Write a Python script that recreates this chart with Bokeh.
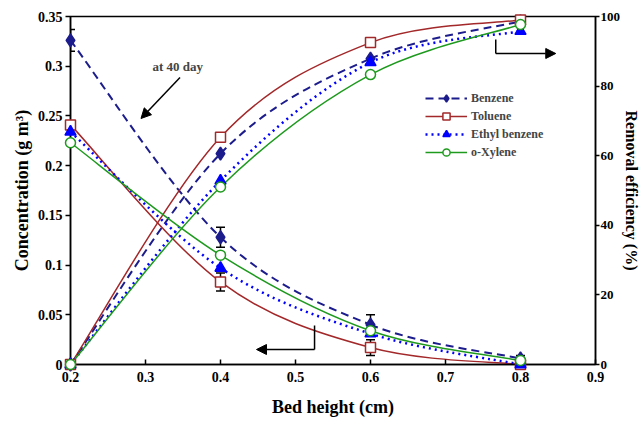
from bokeh.plotting import figure
from bokeh.models import (Range1d, LinearAxis, FixedTicker, Legend, LegendItem, Whisker,
                          ColumnDataSource, Arrow, NormalHead, Label, TeeHead)
from bokeh.embed import file_html
from bokeh.resources import INLINE

# ---- data ----
bed_height = [0.2, 0.4, 0.6, 0.8]
conc_benzene = [0.326, 0.128, 0.040, 0.006]
conc_toluene = [0.241, 0.083, 0.017, 0.0]
conc_ethyl = [0.234, 0.097, 0.031, 0.0]
conc_xylene = [0.223, 0.110, 0.034, 0.004]
rem_benzene = [0.0, 60.6, 87.9, 98.6]
rem_toluene = [0.0, 65.3, 92.5, 99.0]
rem_ethyl = [0.0, 52.8, 86.8, 95.8]
rem_xylene = [0.0, 51.0, 83.3, 97.7]
err_x = [0.2, 0.4, 0.4, 0.6, 0.6, 0.8]
err_val = [0.326, 0.128, 0.083, 0.040, 0.017, 0.006]
err_size = [0.011, 0.010, 0.009, 0.010, 0.008, 0.003]

x_ticks = [0.2, 0.3, 0.4, 0.5, 0.6, 0.7, 0.8, 0.9]
x_labels = ["0.2", "0.3", "0.4", "0.5", "0.6", "0.7", "0.8", "0.9"]
yl_ticks = [0, 0.05, 0.1, 0.15, 0.2, 0.25, 0.3, 0.35]
yl_labels = ["0", "0.05", "0.1", "0.15", "0.2", "0.25", "0.3", "0.35"]
yr_ticks = [0, 20, 40, 60, 80, 100]
yr_labels = ["0", "20", "40", "60", "80", "100"]

FONT = "Liberation Serif"

p = figure(width=643, height=422, output_backend="svg", toolbar_location=None,
           x_range=Range1d(0.2, 0.9), y_range=Range1d(0, 0.35),
           min_border_left=70, min_border_right=46, min_border_top=16, min_border_bottom=58)
p.extra_y_ranges = {"rem": Range1d(0, 100)}
p.grid.visible = False
p.outline_line_color = "black"
p.outline_line_width = 1.5
p.background_fill_color = "white"
p.border_fill_color = "white"


def style_axis(ax, ticks, labels, tick_size="14px", label_size="18px"):
    ax.ticker = FixedTicker(ticks=ticks)
    ax.major_label_overrides = {t: l for t, l in zip(ticks, labels)}
    ax.minor_tick_line_color = None
    ax.axis_line_width = 1.5
    ax.axis_line_color = "black"
    ax.major_tick_line_color = "black"
    ax.major_tick_line_width = 1.5
    ax.major_label_text_font = FONT
    ax.major_label_text_font_style = "bold"
    ax.major_label_text_font_size = tick_size
    ax.major_label_text_color = "black"
    ax.axis_label_text_font = FONT
    ax.axis_label_text_font_style = "bold"
    ax.axis_label_text_font_size = label_size
    ax.axis_label_text_color = "black"


xa = p.xaxis[0]
style_axis(xa, x_ticks, x_labels)
xa.axis_label = "Bed height (cm)"
xa.major_tick_in = 5
xa.major_tick_out = 0
xa.major_label_standoff = 7
xa.axis_label_standoff = 12

ya = p.yaxis[0]
style_axis(ya, yl_ticks, yl_labels)
ya.axis_label = "Concentration (g m³)"
ya.major_tick_in = 0
ya.major_tick_out = 5
ya.major_label_standoff = 3
ya.axis_label_standoff = 3

yr = LinearAxis(y_range_name="rem")
style_axis(yr, yr_ticks, yr_labels, tick_size="13px", label_size="16px")
yr.axis_label = "Removal efficiency (%)"
yr.major_tick_in = 0
yr.major_tick_out = 4
yr.major_label_standoff = 1
yr.axis_label_standoff = 0
p.add_layout(yr, "right")


def catmull_bezier(xs, ys):
    n = len(xs)
    out = dict(x0=[], y0=[], x1=[], y1=[], cx0=[], cy0=[], cx1=[], cy1=[])
    for i in range(n - 1):
        im = max(i - 1, 0)
        i2 = min(i + 2, n - 1)
        out["x0"].append(xs[i]); out["y0"].append(ys[i])
        out["x1"].append(xs[i + 1]); out["y1"].append(ys[i + 1])
        out["cx0"].append(xs[i] + (xs[i + 1] - xs[im]) / 6)
        out["cy0"].append(ys[i] + (ys[i + 1] - ys[im]) / 6)
        out["cx1"].append(xs[i + 1] - (xs[i2] - xs[i]) / 6)
        out["cy1"].append(ys[i + 1] - (ys[i2] - ys[i]) / 6)
    return ColumnDataSource(out)


series = [
    ("Benzene", conc_benzene, rem_benzene, "#1c1c8c", "8 5", 2.0, "diamond", "#1c1c8c", 13),
    ("Toluene", conc_toluene, rem_toluene, "#a3282a", "solid", 1.5, "square", "white", 10),
    ("Ethyl benzene", conc_ethyl, rem_ethyl, "#0000ff", "2 4", 2.5, "triangle", "#0000ff", 11),
    ("o-Xylene", conc_xylene, rem_xylene, "#1e9a1e", "solid", 1.5, "circle", "white", 10),
]

items = []
marker_renderers = []
for name, conc, rem, col, dash, lw, mk, fill, sz in series:
    b1 = p.bezier(x0="x0", y0="y0", x1="x1", y1="y1", cx0="cx0", cy0="cy0", cx1="cx1", cy1="cy1",
                  source=catmull_bezier(bed_height, conc), line_color=col, line_width=lw, line_dash=dash)
    p.bezier(x0="x0", y0="y0", x1="x1", y1="y1", cx0="cx0", cy0="cy0", cx1="cx1", cy1="cy1",
             source=catmull_bezier(bed_height, rem), line_color=col, line_width=lw, line_dash=dash,
             y_range_name="rem")
    marker_renderers.append((conc, rem, col, mk, fill, sz))
    items.append((name, b1))

# error bars
err_src = ColumnDataSource(dict(x=err_x,
                                upper=[v + e for v, e in zip(err_val, err_size)],
                                lower=[v - e for v, e in zip(err_val, err_size)]))
p.add_layout(Whisker(source=err_src, base="x", upper="upper", lower="lower", dimension="height",
                     line_color="black", line_width=1.5,
                     upper_head=TeeHead(size=9, line_color="black", line_width=1.5),
                     lower_head=TeeHead(size=9, line_color="black", line_width=1.5)))

legend_items = []
for (name, b1), (conc, rem, col, mk, fill, sz) in zip(items, marker_renderers):
    m1 = p.scatter(bed_height, conc, marker=mk, size=sz, line_color=col, fill_color=fill,
                   line_width=1.5, level="overlay")
    p.scatter(bed_height, rem, marker=mk, size=sz, line_color=col, fill_color=fill,
              line_width=1.5, y_range_name="rem", level="overlay")
    legend_items.append(LegendItem(label=name, renderers=[b1, m1]))

legend = Legend(items=legend_items, location=(355, 203), padding=0, margin=0, spacing=0,
                label_height=18, glyph_height=18, glyph_width=42, label_standoff=4,
                border_line_color=None, background_fill_alpha=0,
                label_text_font=FONT, label_text_font_style="bold", label_text_font_size="12px")
p.add_layout(legend, "center")

# annotations (arrows and note)
head = dict(size=10, fill_color="black", line_color="black")
p.add_layout(Arrow(end=NormalHead(**head), x_start=0.346, y_start=0.2887, x_end=0.294, y_end=0.2474,
                   line_color="black", line_width=1.5))
p.add_layout(Label(x=0.343, y=0.2997, text="at 40 day", text_align="center", text_baseline="middle",
                   text_font=FONT, text_font_style="bold", text_font_size="13px"))
p.add_layout(Arrow(end=None, x_start=0.5254, y_start=0.0392, x_end=0.5254, y_end=0.0151,
                   line_color="black", line_width=1.5))
p.add_layout(Arrow(end=NormalHead(**head), x_start=0.5254, y_start=0.0151, x_end=0.448, y_end=0.0151,
                   line_color="black", line_width=1.5))
p.add_layout(Arrow(end=None, x_start=0.767, y_start=0.3269, x_end=0.767, y_end=0.3128,
                   line_color="black", line_width=1.5))
p.add_layout(Arrow(end=NormalHead(**head), x_start=0.767, y_start=0.3128, x_end=0.847, y_end=0.3128,
                   line_color="black", line_width=1.5))

open("out.html", "w").write(file_html(p, INLINE))
